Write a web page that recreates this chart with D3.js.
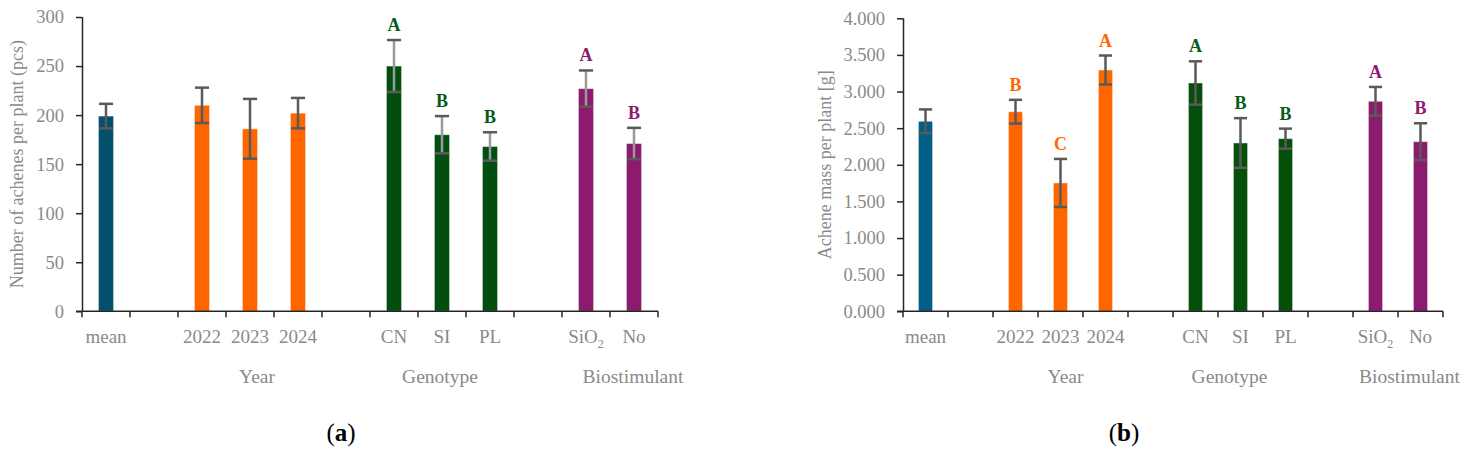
<!DOCTYPE html>
<html>
<head>
<meta charset="utf-8">
<script src="https://cdn.jsdelivr.net/npm/d3@7"></script>
<style>
  html, body { margin: 0; padding: 0; background: #fff; }
  svg { display: block; }
  text { font-family: "Liberation Serif", "DejaVu Serif", serif; }
</style>
</head>
<body>
<svg id="chart" width="1468" height="455"></svg>
<script>
// ---------- data ----------
const categories = ["mean", "_gap1", "2022", "2023", "2024", "_gap2", "CN", "SI", "PL", "_gap3", "SiO2", "No"];
const tickLabels = ["mean", "", "2022", "2023", "2024", "", "CN", "SI", "PL", "", "SiO2", "No"];
const barCats   = ["mean", "2022", "2023", "2024", "CN", "SI", "PL", "SiO2", "No"];
const barGroups = ["mean", "year", "year", "year", "geno", "geno", "geno", "bio", "bio"];

const achenesMean    = [199, 210, 186, 202, 250, 180, 168, 227, 171];
const achenesErr     = [12.5, 18, 30.5, 15.5, 26.5, 19, 14.5, 18.5, 16];
const achenesLetters = ["", "", "", "", "A", "B", "B", "A", "B"];

const massMean    = [2.594, 2.725, 1.752, 3.294, 3.117, 2.298, 2.357, 2.867, 2.316];
const massErr     = [0.162, 0.162, 0.328, 0.198, 0.296, 0.339, 0.137, 0.196, 0.251];
const massLetters = ["", "B", "C", "A", "A", "B", "B", "A", "B"];

const groupNames  = ["Year", "Genotype", "Biostimulant"];
const groupAnchor = ["2023", "SI", "No"];

const yTicksA = [0, 50, 100, 150, 200, 250, 300];
const yTicksB = [0, 0.5, 1, 1.5, 2, 2.5, 3, 3.5, 4];

// ---------- drawing ----------
const svg = d3.select("#chart");

function drawChart(cfg) {
  const g = svg.append("g");
  const x = d3.scaleBand().domain(categories).range([cfg.left, cfg.right]).padding(0);
  const y = d3.scaleLinear().domain([0, cfg.max]).range([cfg.bottom, cfg.top]);
  const bw = x.bandwidth() * 0.315;

  const rows = barCats.map((c, i) => ({
    cat: c, grp: barGroups[i], v: cfg.values[i], e: cfg.errors[i], l: cfg.letters[i]
  }));

  // bars
  g.selectAll("rect.bar").data(rows).enter().append("rect")
    .attr("class", "bar")
    .attr("x", d => x(d.cat) + x.bandwidth() / 2 - bw / 2)
    .attr("y", d => y(d.v))
    .attr("width", bw)
    .attr("height", d => y(0) - y(d.v))
    .attr("fill", d => cfg.colors[d.grp])
    .attr("stroke", "rgba(255,255,255,0.45)")
    .attr("stroke-width", 1);

  // y axis
  const yAxis = d3.axisLeft(y).tickValues(cfg.ticks).tickFormat(cfg.fmt).tickSize(6).tickPadding(12);
  const ya = g.append("g").attr("transform", `translate(${cfg.left},0)`).call(yAxis);
  ya.select(".domain").attr("stroke", "#262626").attr("stroke-width", 1.5)
    .attr("d", `M0.5,${cfg.top}V${cfg.bottom}`);
  ya.selectAll(".tick line").attr("stroke", "#262626").attr("stroke-width", 1.5);
  ya.selectAll(".tick text").attr("fill", "#8a8a8a").style("font-size", "18.5px")
    .style("font-family", "'Liberation Serif', serif");

  // x axis line + ticks at band boundaries
  g.append("line").attr("x1", cfg.left - 6).attr("x2", cfg.right)
    .attr("y1", y(0)).attr("y2", y(0))
    .attr("stroke", "#262626").attr("stroke-width", 1.5);
  const bounds = categories.map(c => x(c)).concat([cfg.right]);
  g.selectAll("line.xt").data(bounds).enter().append("line")
    .attr("x1", d => d).attr("x2", d => d)
    .attr("y1", y(0)).attr("y2", y(0) + 6)
    .attr("stroke", "#262626").attr("stroke-width", 1.5);

  // x tick labels
  const tl = g.selectAll("text.xl").data(categories).enter().append("text")
    .attr("x", d => x(d) + x.bandwidth() / 2)
    .attr("y", cfg.bottom + 32)
    .attr("text-anchor", "middle")
    .attr("fill", "#8a8a8a")
    .style("font-size", "19px");
  tl.each(function(d, i) {
    const t = d3.select(this);
    const lab = tickLabels[i];
    if (lab === "SiO2") {
      t.append("tspan").text("SiO");
      t.append("tspan").text("2").attr("dy", 5).style("font-size", "12px");
    } else {
      t.text(lab);
    }
  });

  // group labels
  g.selectAll("text.gl").data(groupNames).enter().append("text")
    .attr("x", (d, i) => x(groupAnchor[i]) + x.bandwidth() / 2 + cfg.groupShift[i])
    .attr("y", cfg.bottom + 72)
    .attr("text-anchor", "middle")
    .attr("fill", "#8a8a8a")
    .style("font-size", "19.5px")
    .text(d => d);

  // error bars
  const eb = g.selectAll("g.err").data(rows).enter().append("g");
  eb.append("line")
    .attr("x1", d => x(d.cat) + x.bandwidth() / 2).attr("x2", d => x(d.cat) + x.bandwidth() / 2)
    .attr("y1", d => y(d.v + d.e)).attr("y2", d => y(d.v - d.e))
    .attr("stroke", d => cfg.lightStem[d.grp] ? "#9a9a9a" : "#5a5a5a")
    .attr("stroke-width", 2.5);
  [1, -1].forEach(s => {
    eb.append("line")
      .attr("x1", d => x(d.cat) + x.bandwidth() / 2 - bw / 2 + 0.5)
      .attr("x2", d => x(d.cat) + x.bandwidth() / 2 + bw / 2 - 0.5)
      .attr("y1", d => y(d.v + s * d.e)).attr("y2", d => y(d.v + s * d.e))
      .attr("stroke", "#5a5a5a").attr("stroke-width", 2.5);
  });

  // significance letters
  g.selectAll("text.sig").data(rows.filter(d => d.l)).enter().append("text")
    .attr("x", d => x(d.cat) + x.bandwidth() / 2)
    .attr("y", d => y(d.v + d.e) - 9)
    .attr("text-anchor", "middle")
    .attr("fill", d => cfg.letterColors[d.grp])
    .style("font-size", "18px").style("font-weight", "bold")
    .text(d => d.l);

  // axis title
  g.append("text")
    .attr("transform", `translate(${cfg.titleX},${(cfg.top + cfg.bottom) / 2}) rotate(-90)`)
    .attr("text-anchor", "middle")
    .attr("dominant-baseline", "central")
    .attr("fill", "#8a8a8a")
    .style("font-size", "18px")
    .text(cfg.title);

  // panel label
  const pl = g.append("text").attr("x", cfg.panelX).attr("y", 441)
    .attr("text-anchor", "middle").attr("fill", "#000").style("font-size", "25px");
  pl.append("tspan").text("(");
  pl.append("tspan").text(cfg.panel).style("font-weight", "bold");
  pl.append("tspan").text(")");
}

drawChart({
  left: 82, right: 658, top: 17, bottom: 311.3, max: 300,
  ticks: yTicksA, fmt: d3.format("d"),
  values: achenesMean, errors: achenesErr, letters: achenesLetters,
  colors: { mean: "#024f6e", year: "#ff6600", geno: "#024d10", bio: "#8c1a6e" },
  letterColors: { mean: "#024f6e", year: "#ff6600", geno: "#0a5a1a", bio: "#8c1a6e" },
  lightStem: { geno: true, bio: true },
  groupShift: [7, -2, -1],
  title: "Number of achenes per plant (pcs)", titleX: 17,
  panel: "a", panelX: 341
});

drawChart({
  left: 903, right: 1443, top: 18.3, bottom: 311.3, max: 4,
  ticks: yTicksB, fmt: d3.format(".3f"),
  values: massMean, errors: massErr, letters: massLetters,
  colors: { mean: "#005f86", year: "#ff6600", geno: "#054f0b", bio: "#8c1a6e" },
  letterColors: { mean: "#005f86", year: "#ff6600", geno: "#0a5a1a", bio: "#8c1a6e" },
  lightStem: {},
  groupShift: [5, -11, -11],
  title: "Achene mass per plant [g]", titleX: 825,
  panel: "b", panelX: 1124
});
</script>
</body>
</html>
